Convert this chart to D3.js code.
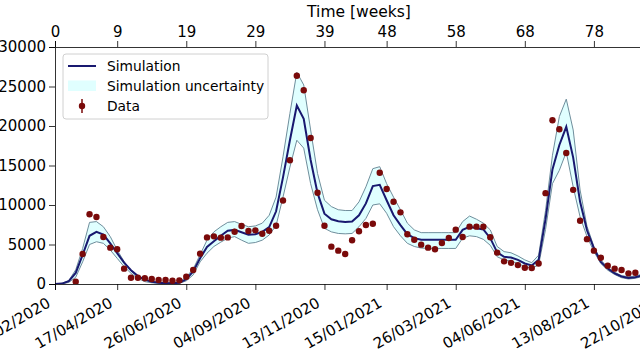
<!DOCTYPE html>
<html>
<head>
<meta charset="utf-8">
<script src="https://cdn.jsdelivr.net/npm/d3@7"></script>
<style>
html,body{margin:0;padding:0;background:#fff;}
svg{display:block;font-family:"DejaVu Sans",sans-serif;}
</style>
</head>
<body>
<svg id="chart" width="640" height="360"></svg>
<script>
const simWeeks = d3.range(0, 89);
const simMean = [0,50,350,1400,3700,6100,6600,6250,5150,3900,2700,1750,1000,550,280,150,100,100,150,600,1600,3250,4700,5400,6100,6750,6850,6550,6250,6300,6600,7200,9200,13500,18200,22600,20900,15700,11500,8900,8200,7950,7850,7900,8700,10200,12400,12550,10600,8700,7450,6300,5800,5600,5600,5600,5600,5600,5600,6850,7250,7050,6900,5800,4000,3450,3350,3050,2600,2350,3050,8200,14500,17600,19900,16000,10400,6800,4500,2800,1950,1350,950,750,850,1100,1300,1500,1600];
const simUpper = [0,80,450,1800,4500,7800,7900,7250,6000,4300,2850,1650,950,500,300,220,200,200,260,900,1900,3700,5550,6600,7250,7800,7900,7550,7250,7350,7700,8700,11000,16100,21600,26800,25200,19500,14000,10600,9800,9400,9300,9300,10400,12300,14600,14850,12700,11000,9400,7700,6850,6500,6500,6500,6500,6500,6500,7900,8600,8200,7700,6850,4750,4100,3950,3550,3050,2700,3650,9300,16300,21200,23400,19500,11900,7300,4750,3050,2100,1500,1050,930,1000,1250,1450,1650,1750];
const simLower = [0,30,200,850,2800,5000,5350,5150,4300,3250,2200,1350,700,300,150,80,50,50,80,400,1150,2800,3900,4750,5300,5800,6000,5550,5150,5250,5550,6200,7400,11000,14800,18200,17200,12700,9400,7050,6600,6400,6350,6400,7250,8300,10000,10150,8950,7250,6100,5150,4750,4550,4500,4500,4500,4500,4500,5800,6100,6000,5650,4900,3450,3050,2900,2600,2200,2000,2400,6900,12700,14400,16700,12300,8500,6000,4100,2600,1750,1200,800,630,720,950,1150,1350,1450];
const dataWeeks = d3.range(3, 85);
const dataValues = [290,3800,8820,8480,5950,4600,4390,1940,800,800,720,630,500,500,420,460,920,1770,3840,5900,6030,5870,5900,6620,7340,6710,6790,6370,6750,7380,10570,15660,26370,24520,18480,11560,7380,4730,4220,3800,5530,6670,7470,7630,14090,12030,10420,9070,6290,5610,4980,4600,4390,5190,5820,6880,5950,7260,7260,7260,5910,3970,2870,2680,2390,2050,2030,2600,11500,20720,19580,16580,11920,8000,5680,4220,3330,2320,1940,1770,1350,1430];
const weekTicks = [0,9,19,29,39,48,58,68,78,88];
const dateLabels = ["14/02/2020","17/04/2020","26/06/2020","04/09/2020","13/11/2020","15/01/2021","26/03/2021","04/06/2021","13/08/2021","22/10/2021"];
const yTicks = [0,5000,10000,15000,20000,25000,30000];
const legendLabels = ["Simulation","Simulation uncertainty","Data"];

const svg = d3.select("#chart");
const L = 55, R = 663, T = 47, B = 284;
const x = d3.scaleLinear().domain([0, 88]).range([L, R]);
const y = d3.scaleLinear().domain([0, 30000]).range([B, T]);

const clip = svg.append("defs").append("clipPath").attr("id","clip")
  .append("rect").attr("x", L).attr("y", T).attr("width", R-L).attr("height", B-T);

const g = svg.append("g").attr("clip-path","url(#clip)");
const sim = simWeeks.map((w,i)=>({w, m:simMean[i], u:simUpper[i], l:simLower[i]}));

g.append("path").datum(sim)
  .attr("d", d3.area().x(d=>x(d.w)).y0(d=>y(d.l)).y1(d=>y(d.u)))
  .attr("fill","#e0ffff");
g.append("path").datum(sim)
  .attr("d", d3.line().x(d=>x(d.w)).y(d=>y(d.u)))
  .attr("fill","none").attr("stroke","#6f8e9c").attr("stroke-width",1);
g.append("path").datum(sim)
  .attr("d", d3.line().x(d=>x(d.w)).y(d=>y(d.l)))
  .attr("fill","none").attr("stroke","#6f8e9c").attr("stroke-width",1);
g.append("path").datum(sim)
  .attr("d", d3.line().x(d=>x(d.w)).y(d=>y(d.m)))
  .attr("fill","none").attr("stroke","#191970").attr("stroke-width",2);

g.selectAll("circle.d").data(dataWeeks.map((w,i)=>({w, v:dataValues[i]})))
  .enter().append("circle")
  .attr("cx", d=>x(d.w)).attr("cy", d=>y(d.v)).attr("r", 3.2)
  .attr("fill","#7a0a0a");

// axes
const fs = 15;
const axL = svg.append("g").attr("transform",`translate(${L},0)`)
  .call(d3.axisLeft(y).tickValues(yTicks).tickSize(6).tickPadding(3).tickFormat(d3.format("d")));
const axT = svg.append("g").attr("transform",`translate(0,${T})`)
  .call(d3.axisTop(x).tickValues(weekTicks).tickSize(6).tickPadding(4).tickFormat(d=>String(d)));
const axB = svg.append("g").attr("transform",`translate(0,${B})`)
  .call(d3.axisBottom(x).tickValues(weekTicks).tickSize(6).tickFormat((d,i)=>dateLabels[i]));
[axL, axT, axB].forEach(a=>{
  a.selectAll("text").attr("font-size", fs).attr("font-family","DejaVu Sans").attr("fill","#000");
  a.selectAll("line").attr("stroke","#000").attr("stroke-width",0.8);
  a.select(".domain").attr("stroke","#000").attr("stroke-width",0.8);
});
axB.selectAll(".tick text")
  .attr("text-anchor","end")
  .attr("x", 0).attr("y", 0).attr("dy", 0)
  .attr("transform","translate(-4,22) rotate(-30)");

svg.append("text").attr("x", (L+R)/2).attr("y", 17)
  .attr("text-anchor","middle").attr("font-size", 15.5).attr("fill","#000")
  .text("Time [weeks]");

// legend
const lg = svg.append("g");
lg.append("rect").attr("x",63).attr("y",54).attr("width",205).attr("height",65)
  .attr("rx",3).attr("fill","#fff").attr("fill-opacity",0.85).attr("stroke","#d0d0d0").attr("stroke-width",1);
lg.append("line").attr("x1",68).attr("x2",96).attr("y1",66).attr("y2",66)
  .attr("stroke","#191970").attr("stroke-width",2);
lg.append("rect").attr("x",68).attr("y",80.5).attr("width",28).attr("height",10.5).attr("fill","#e0ffff");
lg.append("line").attr("x1",82).attr("x2",82).attr("y1",99).attr("y2",113)
  .attr("stroke","#7a0a0a").attr("stroke-width",1.5);
lg.append("circle").attr("cx",82).attr("cy",106).attr("r",3.2).attr("fill","#7a0a0a");
legendLabels.forEach((t,i)=>{
  lg.append("text").attr("x",107).attr("y",71+i*20).attr("font-size",13.8).attr("fill","#000").text(t);
});
</script>
</body>
</html>
